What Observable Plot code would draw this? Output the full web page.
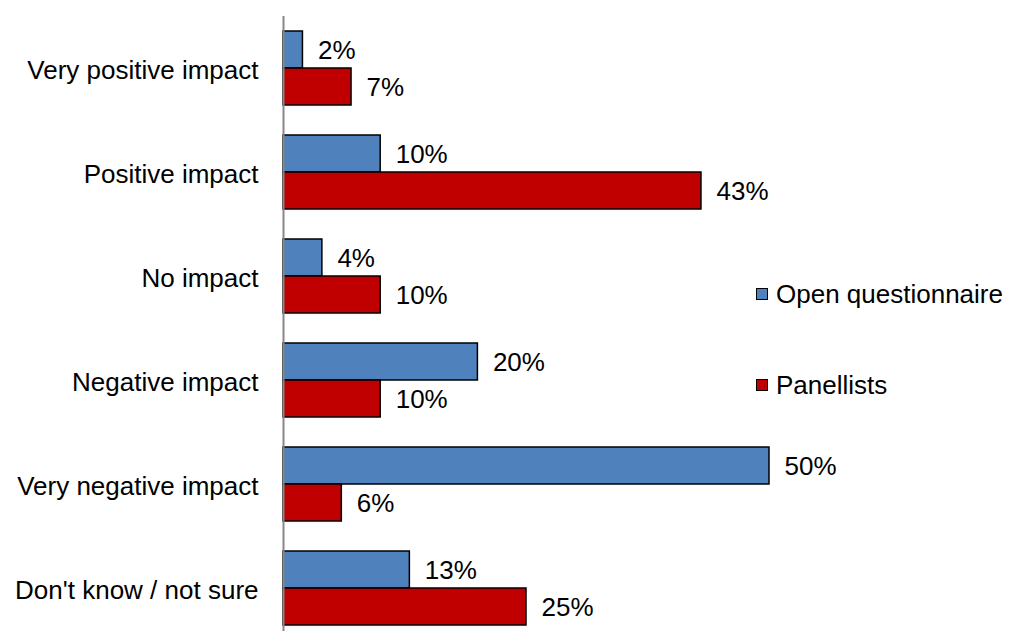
<!DOCTYPE html>
<html><head><meta charset="utf-8">
<script src="https://cdn.jsdelivr.net/npm/d3@7"></script>
<script src="https://cdn.jsdelivr.net/npm/@observablehq/plot@0.6"></script>
<style>
body{margin:0;background:#fff;font-family:"Liberation Sans",Arial,sans-serif;}
#wrap{position:relative;width:1011px;height:631px;overflow:hidden;background:#fff}
.lg{position:absolute;left:756px;height:26px;display:flex;align-items:center;font-size:26px;color:#000;white-space:nowrap}
.sw{width:10px;height:10px;border:1px solid #000;margin-right:8px;flex:none}
</style></head><body><div id="wrap"></div>
<script>
const categories = ["Very positive impact","Positive impact","No impact","Negative impact","Very negative impact","Don't know / not sure"];
const series = ["Open questionnaire","Panellists"];
const openValues = [2,10,4,20,50,13];
const panelValues = [7,43,10,10,6,25];
const colors = ["#4F81BD","#C00000"];

const data = categories.flatMap((c,i)=>[
  {category:c, series:series[0], value:openValues[i]},
  {category:c, series:series[1], value:panelValues[i]}
]);

const chart = Plot.plot({
  width:1011, height:631, marginLeft:283, marginRight:0, marginTop:16, marginBottom:-9,
  style:{fontFamily:"Liberation Sans, Arial, sans-serif", fontSize:"26px", color:"#000", background:"#fff", overflow:"visible"},
  x:{domain:[0,50], range:[283,769], axis:null},
  y:{domain:series, axis:null, paddingInner:0, paddingOuter:0.387},
  fy:{domain:categories, padding:0, axis:null},
  color:{domain:series, range:colors},
  marks:[
    Plot.axisFy({anchor:"left", tickSize:0, tickPadding:25, fontSize:26, label:null, dy:2}),
    Plot.barX(data,{fy:"category", y:"series", x:"value", fill:"series", stroke:"#000", strokeWidth:1.5}),
    Plot.text(data,{fy:"category", y:"series", x:"value", text:d=>d.value+"%", textAnchor:"start", dx:15, dy:1, fontSize:26, fill:"#000"}),
    Plot.ruleX([0],{stroke:"#868686", strokeWidth:2})
  ]
});
const wrap = document.getElementById("wrap");
wrap.appendChild(chart);
const legendTops = [281, 372];
series.forEach((s,i)=>{
  const d = document.createElement("div");
  d.className = "lg";
  d.style.top = legendTops[i] + "px";
  d.innerHTML = `<span class="sw" style="background:${colors[i]}"></span><span></span>`;
  d.lastChild.textContent = s;
  wrap.appendChild(d);
});
</script></body></html>
